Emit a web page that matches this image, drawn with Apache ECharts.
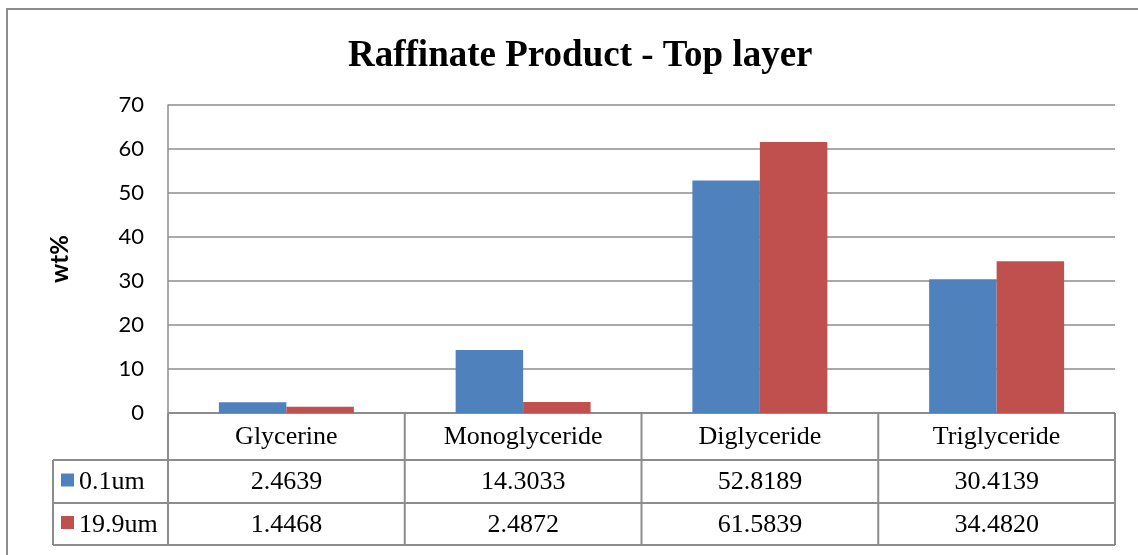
<!DOCTYPE html>
<html>
<head>
<meta charset="utf-8">
<script src="https://cdn.jsdelivr.net/npm/echarts@6/dist/echarts.min.js"></script>
<style>
  html, body { margin: 0; padding: 0; background: #fff; }
  #chart { width: 1138px; height: 555px; }
</style>
</head>
<body>
<div id="chart"></div>
<script>
// data
const categories = ['Glycerine', 'Monoglyceride', 'Diglyceride', 'Triglyceride'];
const seriesNames = ['0.1um', '19.9um'];
const values01 = [2.4639, 14.3033, 52.8189, 30.4139];
const values199 = [1.4468, 2.4872, 61.5839, 34.4820];
const colors = ['#4F81BD', '#C0504D'];

const gridLeft = 168, gridRight = 23, gridTop = 105, gridBottom = 142;
const W = 1138, H = 555;
const lineColor = '#8c8c8c';

let chart = echarts.init(document.getElementById('chart'));

let option = {
  animation: false,
  title: {
    text: 'Raffinate Product - Top layer',
    left: 343,
    top: 33,
    textStyle: {
      fontFamily: 'Liberation Serif',
      fontWeight: 'bold',
      fontSize: 37,
      color: '#000'
    }
  },
  grid: { left: gridLeft, right: gridRight, top: gridTop, bottom: gridBottom },
  xAxis: {
    type: 'category',
    data: categories,
    axisLine: { show: false },
    axisTick: { show: false },
    axisLabel: { show: false }
  },
  yAxis: {
    type: 'value',
    min: 0,
    max: 70,
    interval: 10,
    name: 'wt%',
    nameLocation: 'middle',
    nameGap: 96,
    nameRotate: 90,
    nameTextStyle: { fontFamily: 'Lato', fontWeight: 'bold', fontSize: 24, color: '#000' },
    axisLine: { show: true, lineStyle: { color: lineColor, width: 1.5 } },
    axisTick: { show: false },
    axisLabel: { fontFamily: 'Lato', fontSize: 22, color: '#000', margin: 24 },
    splitLine: { lineStyle: { color: lineColor, width: 1.5 } }
  },
  series: [
    {
      name: seriesNames[0],
      type: 'bar',
      data: values01,
      barGap: '0%',
      barCategoryGap: '43%',
      itemStyle: { color: colors[0] }
    },
    {
      name: seriesNames[1],
      type: 'bar',
      data: values199,
      itemStyle: { color: colors[1] }
    }
  ]
};
chart.setOption(option);

// data table under the chart
function buildTable() {
  const y0 = H - gridBottom;
  const rowY = [y0, 460, 503, 545];
  const right = W - gridRight;
  const colW = (right - gridLeft) / categories.length;
  const tableLeft = 53;
  const els = [];
  const ls = { stroke: lineColor, lineWidth: 2 };

  // outer frame of the figure
  els.push({ type: 'rect', shape: { x: 7, y: 9, width: W + 20, height: H + 20 }, style: { fill: null, stroke: '#8c8c8c', lineWidth: 2 } });

  // horizontal lines
  els.push({ type: 'line', shape: { x1: gridLeft, y1: rowY[0], x2: right, y2: rowY[0] }, style: ls });
  for (let r = 1; r < rowY.length; r++) {
    els.push({ type: 'line', shape: { x1: tableLeft, y1: rowY[r], x2: right, y2: rowY[r] }, style: ls });
  }
  // vertical lines
  els.push({ type: 'line', shape: { x1: tableLeft, y1: rowY[1], x2: tableLeft, y2: rowY[3] }, style: ls });
  for (let i = 0; i <= categories.length; i++) {
    const x = gridLeft + i * colW;
    els.push({ type: 'line', shape: { x1: x, y1: rowY[0], x2: x, y2: rowY[3] }, style: ls });
  }

  const textStyle = { fontFamily: 'Liberation Serif', fontSize: 26, fill: '#000', align: 'center', verticalAlign: 'middle' };
  categories.forEach((c, i) => {
    const cx = chart.convertToPixel({ xAxisIndex: 0 }, c);
    els.push({ type: 'text', style: Object.assign({ text: c, x: cx, y: (rowY[0] + rowY[1]) / 2 + 1 }, textStyle) });
    [values01, values199].forEach((vals, s) => {
      els.push({ type: 'text', style: Object.assign({ text: vals[i].toFixed(4), x: cx, y: (rowY[s + 1] + rowY[s + 2]) / 2 + 1 }, textStyle) });
    });
  });

  // legend keys in the table
  seriesNames.forEach((n, s) => {
    const cy = (rowY[s + 1] + rowY[s + 2]) / 2;
    els.push({ type: 'rect', shape: { x: 61, y: cy - 8, width: 13, height: 13 }, style: { fill: colors[s] } });
    els.push({ type: 'text', style: { text: n, x: 79, y: cy + 1, fontFamily: 'Liberation Serif', fontSize: 26, fill: '#000', align: 'left', verticalAlign: 'middle' } });
  });

  chart.setOption({ graphic: els });
}
buildTable();
</script>
</body>
</html>
